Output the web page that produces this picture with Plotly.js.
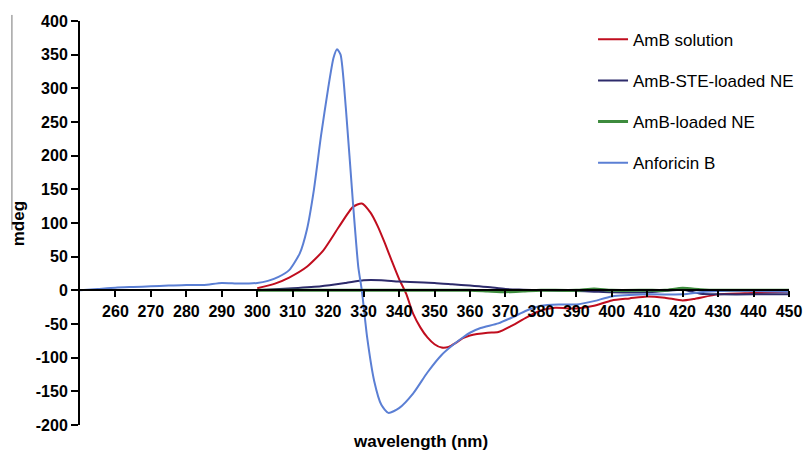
<!DOCTYPE html>
<html>
<head>
<meta charset="utf-8">
<script src="https://cdn.plot.ly/plotly-3.0.1.min.js"></script>
<style>html,body{margin:0;padding:0;background:#fff}#chart{width:803px;height:451px}</style>
</head>
<body>
<div id="chart"></div>
<script>
// AmB solution (red)
const redX = [300,305,309,314,318.6,323,327,329.5,332,334,336,338,340,342,344,346,348,350,352,354,356,358,360,365,368,372,376,380,384,390,395,400,405,410,415,420,423,430,440,450];
const redY = [3,10,19,35,59,94,124,129,115,95,70,43,17,-5,-35,-55,-70,-80,-85,-84,-78,-71,-67,-63,-62,-52,-40,-30,-26,-27,-23,-15,-12,-9,-11,-15,-13,-6,-4,-2];

// AmB-STE-loaded NE (navy)
const navyX = [300,310,318,325,330,335,340,350,355,360,365,370,375,380,390,395,400,410,415,420,425,430,440,450];
const navyY = [0,3,6,11,15,15,13,11,9,7,5,2,1,0,-1,-2,-3,-3,-1,1,-5,-6,-6,-6];

// AmB-loaded NE (green)
const greenX = [300,320,340,360,365,370,375,380,390,395,400,410,415,420,425,430,440,450];
const greenY = [0,0,0,0,-1,-2,-1,0,0,2,0,0,0,3,1,0,0,0];

// Anforicin B (blue)
const blueX = [250,255,260,265,270,275,280,285,290,295,300,303,306,309,312,314,316,318,320,321.5,322.5,323.5,325,327,328.5,329.5,331,333,335,337,340,344,348,352,355,358,360,363,368,372,376,380,385,390,395,400,410,420,425,430,440,450];
const blueY = [0,2,4,5,6,7,8,8,11,10,11,14,20,30,55,90,150,230,300,345,358,350,270,130,35,0,-70,-135,-170,-182,-175,-153,-122,-96,-82,-70,-63,-56,-49,-40,-30,-23,-21,-21,-16,-9,-6,-6,-3,-1,-1,-2];

const names = ['AmB solution','AmB-STE-loaded NE','AmB-loaded NE','Anforicin B'];
const colors = ['#c00d1e','#2d2b6b','#3d8b3d','#5b7fd4'];
const widths = [2,2,3,2];

const xTicks = [260,270,280,290,300,310,320,330,340,350,360,370,380,390,400,410,420,430,440,450];
const yTicks = [-200,-150,-100,-50,0,50,100,150,200,250,300,350,400];

const series = [[redX,redY],[navyX,navyY],[greenX,greenY],[blueX,blueY]];
const data = series.map((s,i)=>({
  x: s[0], y: s[1], type:'scatter', mode:'lines', name:names[i],
  legendgroup:'g'+i,
  line:{color:colors[i], width:widths[i], shape:'spline', smoothing:0.6}
}));

const FAM = 'Liberation Sans, Arial, sans-serif';
const bold = {family:FAM, size:16, color:'#000', weight:'bold'};

const layout = {
  width:803, height:451,
  margin:{l:80, r:14, t:21, b:26, autoexpand:false},
  paper_bgcolor:'#fff', plot_bgcolor:'#fff',
  showlegend:true,
  legend:{x:0.7236, y:0.998, xanchor:'left', yanchor:'top', traceorder:'grouped',
    tracegroupgap:16, font:{family:FAM, size:17, color:'#000'},
    bgcolor:'rgba(0,0,0,0)'},
  xaxis:{range:[250,450], anchor:'free', position:1/3, showline:true, linewidth:2, linecolor:'#000',
    ticks:'outside', ticklen:6, tickwidth:2, tickcolor:'#000', tickvals:xTicks, automargin:false,
    ticktext:xTicks.map(String), showgrid:false, zeroline:false, tickfont:bold},
  yaxis:{range:[-200,400], showline:true, linewidth:2, linecolor:'#000', automargin:false,
    ticks:'outside', ticklen:7, tickwidth:2, tickcolor:'#000', tickvals:yTicks,
    ticktext:yTicks.map(String), showgrid:false, zeroline:false, tickfont:bold},
  annotations:[
    {text:'wavelength (nm)', xref:'paper', yref:'paper', x:0.48, y:-0.04, xanchor:'center', yanchor:'middle',
     showarrow:false, font:{family:FAM, size:17, color:'#000', weight:'bold'}},
    {text:'mdeg', xref:'paper', yref:'paper', x:-0.087, y:0.4975, xanchor:'center', yanchor:'middle', textangle:-90,
     showarrow:false, font:{family:FAM, size:17, color:'#000', weight:'bold'}}
  ],
  shapes:[
    {type:'line', xref:'paper', yref:'paper', x0:-0.096, x1:-0.096, y0:1.015, y1:0.483,
     line:{color:'#777', width:1}}
  ]
};

Plotly.newPlot('chart', data, layout, {displayModeBar:false, staticPlot:true});
</script>
</body>
</html>
